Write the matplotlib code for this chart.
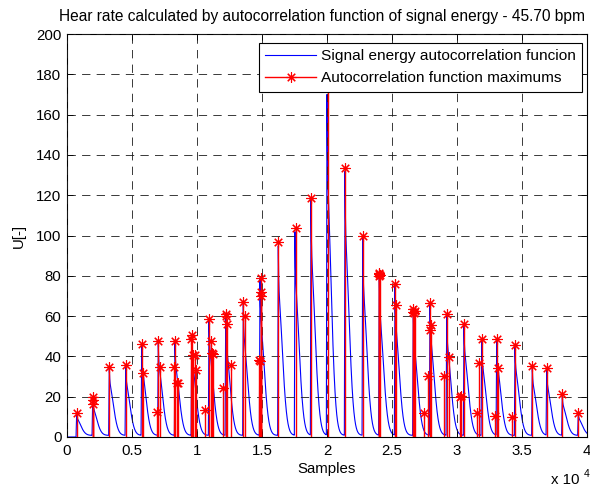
import numpy as np
import matplotlib
matplotlib.use("Agg")
import matplotlib.pyplot as plt
from matplotlib.lines import Line2D
from matplotlib.ticker import FixedLocator, FuncFormatter

plt.rcParams["font.family"] = ["Liberation Sans", "DejaVu Sans"]
plt.rcParams["lines.scale_dashes"] = False

# ---------------------------------------------------------------- data
n_samples = 40000

# lag (samples) and height of each beat peak of the energy autocorrelation
beat_lag = [746, 1977, 3254, 4515, 5746, 7023, 8308, 9592, 10923, 12208,
            13562, 14846, 16254, 17538, 18769, 20000, 21385, 22746, 24023,
            25231, 26638, 27923, 29208, 30538, 31900, 33054, 34462, 35792,
            36900, 38100, 39331]
beat_peak = [11, 18, 34, 35, 44, 46, 46, 49, 57, 60,
             65, 78, 94, 101, 117, 169, 131, 98, 80,
             74, 62, 65, 60, 55, 47, 47, 44, 34,
             33, 20, 11]

# detected local maxima of the autocorrelation function
max_lag = [746,
           1977, 1962, 1977,
           3254, 4515,
           5746, 5823,
           6900, 7023, 7154,
           8231, 8308, 8485, 8562,
           9538, 9592, 9715, 9846, 9923, 10615,
           10923, 11054, 11131, 11231,
           12023, 12208, 12269, 12331, 12577,
           13562, 13692,
           14769, 14808, 14900, 14923, 14946,
           16254, 17592, 18769, 20054, 21385, 22746,
           23962, 24023, 24077, 24000,
           25231, 25308,
           26577, 26638, 26692, 26769,
           27462, 27792, 27923, 27961, 27977,
           29023, 29208, 29408,
           30231, 30346, 30538,
           31515, 31715, 31900,
           32923, 33054, 33177,
           34208, 34462,
           35792, 36900, 38100, 39331]
max_val = [12.1,
           19.7, 18.5, 16.4,
           34.9, 35.6,
           46.1, 31.9,
           12.6, 47.8, 34.9,
           34.9, 47.8, 27.0, 26.7,
           48.5, 50.6, 40.7, 40.7, 33.2, 13.4,
           58.4, 47.5, 41.5, 41.0,
           24.1, 61.0, 60.0, 56.0, 35.5,
           67.2, 60.0,
           38.2, 37.5, 78.8, 72.1, 70.0,
           96.9, 103.9, 118.8, 178.0, 133.3, 99.9,
           81.5, 80.9, 80.5, 80.0,
           75.9, 65.5,
           62.0, 63.4, 61.5, 62.5,
           11.7, 30.3, 66.7, 53.0, 55.6,
           30.3, 61.0, 39.5,
           20.0, 20.5, 56.0,
           11.7, 36.6, 48.5,
           10.6, 48.5, 34.0,
           9.7, 45.7,
           35.2, 34.4, 21.2, 12.1]

x_ticks = [0, 5000, 10000, 15000, 20000, 25000, 30000, 35000, 40000]
y_ticks = list(range(0, 201, 20))

# ------------------------------------------- autocorrelation waveform
# each beat: steep rise, a narrow spike, then a rounded decay into the trough
lag = np.arange(n_samples)
energy_acf = np.zeros(n_samples)
for p, h in zip(beat_lag, beat_peak):
    d = lag - p
    rise = (d >= -50) & (d < 0)
    fall = d >= 0
    df = d[fall].astype(float)
    energy_acf[rise] += h * (1 + d[rise] / 50.0)
    energy_acf[fall] += h * (0.25 * np.exp(-df / 30.0)
                             + 0.75 * np.exp(-(df / 450.0) ** 1.8))
energy_acf += 0.8 * (energy_acf > 0)

# ---------------------------------------------------------------- figure
W, H = 590, 486
fig = plt.figure(figsize=(W / 100, H / 100), dpi=100)
ax_l, ax_r, ax_t, ax_b = 67, 587, 34, 437
ax = fig.add_axes([ax_l / W, 1 - ax_b / H, (ax_r - ax_l) / W, (ax_b - ax_t) / H])

ax.plot(lag, energy_acf, color="#0000ff", lw=0.8, zorder=2)

ax.vlines(max_lag, 0, max_val, colors="#ff0000", lw=1.0, zorder=3)
asterisk = (8, 2, 0)
ax.plot(max_lag, max_val, ls="none", marker=asterisk, ms=7.5, mew=0.8,
        color="#ff0000", zorder=4)

ax.set_xlim(0, n_samples)
ax.set_ylim(0, 200)
ax.xaxis.set_major_locator(FixedLocator(x_ticks))
ax.yaxis.set_major_locator(FixedLocator(y_ticks))
ax.xaxis.set_major_formatter(FuncFormatter(lambda v, _: f"{v / 1e4:g}"))
ax.tick_params(direction="in", length=4, width=0.6, top=True, right=True,
               labelsize=10.8, pad=5, colors="k")
ax.tick_params(axis="y", pad=4)
for s in ax.spines.values():
    s.set_linewidth(0.8)

ax.grid(True, color="#1a1a1a", lw=0.6, ls=(0, (6, 4.5)))
ax.set_axisbelow(False)

ax.set_xlabel("Samples", fontsize=10.8, labelpad=3)
ax.set_ylabel("U[-]", fontsize=10.8, labelpad=7)

fig.text(322 / W, 1 - 17 / H,
         "Hear rate calculated by autocorrelation function of signal energy - 45.70 bpm",
         ha="center", va="center", fontsize=11.2)

fig.text(551 / W, 1 - 480 / H, "x 10", ha="left", va="center", fontsize=10.8)
fig.text(584 / W, 1 - 474 / H, "4", ha="left", va="center", fontsize=7.5)

handles = [Line2D([], [], color="#0000ff", lw=0.8),
           Line2D([], [], color="#ff0000", lw=1.0, marker=asterisk, ms=7.5, mew=0.8)]
leg = ax.legend(handles,
                ["Signal energy autocorrelation funcion",
                 "Autocorrelation function maximums"],
                loc="upper right", bbox_to_anchor=(582 / W, 1 - 43 / H),
                bbox_transform=fig.transFigure, borderaxespad=0,
                fancybox=False, framealpha=1, edgecolor="k", fontsize=11.1,
                handlelength=3.3, handletextpad=0.3, labelspacing=0.5,
                borderpad=0.42)
leg.get_frame().set_linewidth(0.8)
leg.set_zorder(10)

fig.savefig("out.png", dpi=100)
